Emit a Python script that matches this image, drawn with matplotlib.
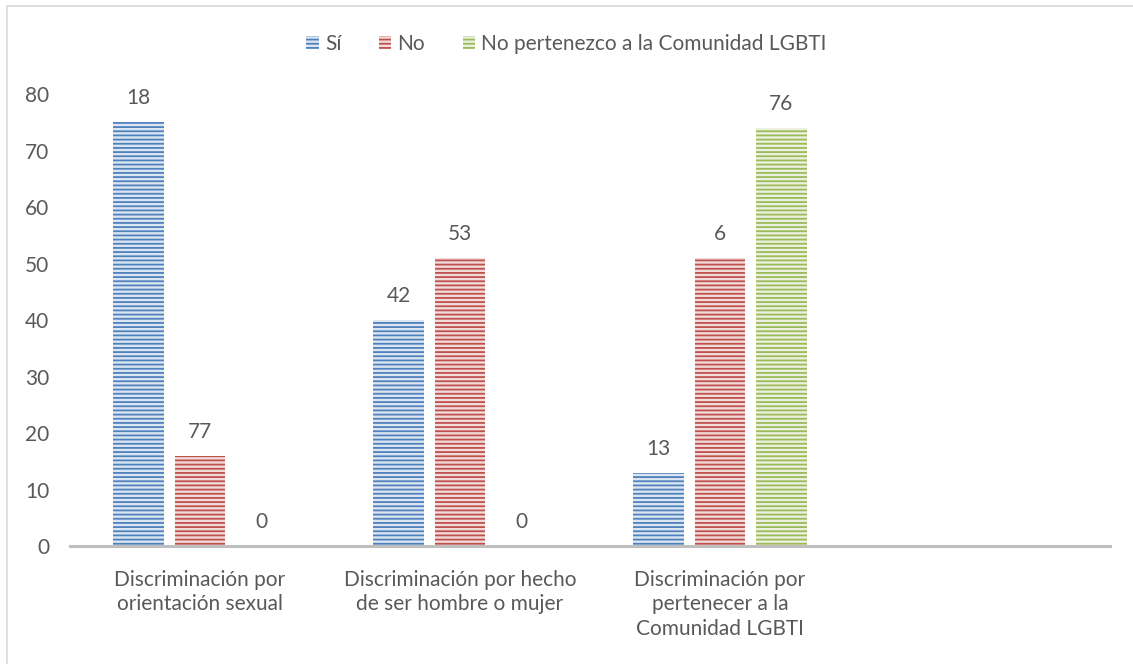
import numpy as np
import matplotlib
matplotlib.use("Agg")
import matplotlib.pyplot as plt
from matplotlib.patches import Rectangle, Patch

plt.rcParams['font.family'] = ['Lato', 'DejaVu Sans']
plt.rcParams['hatch.linewidth'] = 1.3

# data (bar heights and the data labels shown above them differ in the source)
categories = ["Discriminación por\norientación sexual",
              "Discriminación por hecho\nde ser hombre o mujer",
              "Discriminación por\npertenecer a la\nComunidad LGBTI",
              ""]
series = ["Sí", "No", "No pertenezco a la Comunidad LGBTI"]
heights_si = [75, 40, 13, 0]
heights_no = [16, 51, 51, 0]
heights_np = [0, 0, 74, 0]
labels_si = ["18", "42", "13", None]
labels_no = ["77", "53", "6", None]
labels_np = ["0", "0", "76", None]

colors = ["#4F81BD", "#C0504D", "#9BBB59"]
light = ["#DCE6F2", "#F2DCDB", "#EBF1DE"]
text_col = "#595959"
fs = 15

fig = plt.figure(figsize=(11.33, 6.64), dpi=100)
ax = fig.add_axes([0.0618, 0.1777, 0.9179, 0.6807])

x = np.arange(len(categories))
width = 0.196
step = 0.236
all_h = [heights_si, heights_no, heights_np]
all_l = [labels_si, labels_no, labels_np]
for i in range(3):
    pos = x + (i - 1) * step
    ax.bar(pos, all_h[i], width, color=light[i], edgecolor=colors[i],
           linewidth=0, hatch='----')
    for p, h, lab in zip(pos, all_h[i], all_l[i]):
        if lab is None:
            continue
        ax.annotate(lab, (p, h), xytext=(0, 10), textcoords='offset points',
                    ha='center', va='bottom', fontsize=fs, color=text_col)

ax.set_xlim(-0.5, len(categories) - 0.5)
ax.set_ylim(0, 80)
ax.set_yticks(range(0, 81, 10))
ax.set_xticks(x)
ax.set_xticklabels(categories, fontsize=fs, color=text_col, linespacing=1.3)
ax.tick_params(axis='y', length=0, pad=15, labelsize=fs, labelcolor=text_col)
ax.tick_params(axis='x', length=0, pad=17)
for s in ['top', 'right', 'left']:
    ax.spines[s].set_visible(False)
ax.spines['bottom'].set_color('#BFBFBF')
ax.spines['bottom'].set_linewidth(2.2)

handles = [Patch(facecolor=light[i], edgecolor=colors[i], linewidth=0,
                 hatch='----', label=series[i]) for i in range(3)]
fig.legend(handles=handles, loc='center', bbox_to_anchor=(0.5, 0.934),
           ncol=3, frameon=False, fontsize=fs, labelcolor=text_col,
           handlelength=0.6, handleheight=0.6, handletextpad=0.3,
           columnspacing=1.8)

# outer chart border
fig.add_artist(Rectangle((0.0065, -0.01), 1.0, 1.001, transform=fig.transFigure,
                         fill=False, edgecolor='#D9D9D9', linewidth=1.2))

fig.savefig("out.png", dpi=100)
